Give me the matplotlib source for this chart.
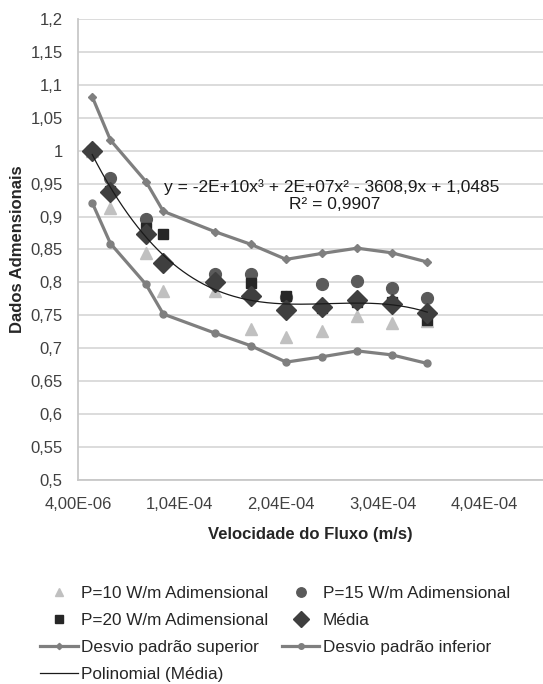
import matplotlib.pyplot as plt
import numpy as np
from matplotlib.ticker import FuncFormatter, MultipleLocator

plt.rcParams['font.family'] = ['Liberation Sans', 'DejaVu Sans']

# velocidade do fluxo (m/s)
vel = [1.8e-5, 3.6e-5, 7.1e-5, 8.8e-5, 1.39e-4, 1.74e-4, 2.09e-4, 2.44e-4, 2.79e-4, 3.13e-4, 3.48e-4]

p10 = [1.0, 0.913, 0.844, 0.787, 0.787, 0.729, 0.717, 0.726, 0.749, 0.739, 0.742]
p15 = [1.0, 0.959, 0.896, 0.83, 0.813, 0.813, 0.778, 0.797, 0.802, 0.792, 0.777]
p20 = [1.0, 0.939, 0.883, 0.873, 0.80, 0.799, 0.779, 0.761, 0.771, 0.770, 0.743]
media = [1.0, 0.937, 0.874, 0.830, 0.800, 0.779, 0.758, 0.762, 0.774, 0.767, 0.754]
sup = [1.082, 1.016, 0.953, 0.908, 0.877, 0.858, 0.835, 0.844, 0.852, 0.845, 0.831]
inf = [0.921, 0.859, 0.797, 0.752, 0.723, 0.704, 0.679, 0.687, 0.696, 0.690, 0.677]

fig = plt.figure(figsize=(5.43, 6.84), dpi=100)
ax = fig.add_axes([78 / 543, 1 - 480 / 684, 1 - 78 / 543, (480 - 19) / 684])

h10, = ax.plot(vel, p10, ls='none', marker='^', ms=8, color='#c0c0c0', label='P=10 W/m Adimensional')
h15, = ax.plot(vel, p15, ls='none', marker='o', ms=8.5, color='#5a5a5a', label='P=15 W/m Adimensional')
h20, = ax.plot(vel, p20, ls='none', marker='s', ms=7, color='#262626', label='P=20 W/m Adimensional')
hm, = ax.plot(vel, media, ls='none', marker='D', ms=10, color='#3f3f3f', label='Média')
hs, = ax.plot(vel, sup, color='#7f7f7f', lw=2.3, marker='D', ms=4, label='Desvio padrão superior')
hi, = ax.plot(vel, inf, color='#7f7f7f', lw=2.3, marker='o', ms=5, label='Desvio padrão inferior')

# linha de tendencia polinomial (grau 3) da media
coef = np.polyfit(vel, media, 3)
xs = np.linspace(vel[0], vel[-1], 200)
hp, = ax.plot(xs, np.polyval(coef, xs), color='#1a1a1a', lw=0.9, label='Polinomial (Média)')

ax.text(2.54e-4, 0.945, 'y = -2E+10x³ + 2E+07x² - 3608,9x + 1,0485',
        ha='center', va='center', fontsize=12.5, color='#1a1a1a')
ax.text(2.57e-4, 0.918, 'R² = 0,9907', ha='center', va='center', fontsize=12.5, color='#1a1a1a')

ax.set_xlim(4e-6, 4.62e-4)
ax.set_ylim(0.5, 1.2)
ax.set_xticks([4e-6, 1.04e-4, 2.04e-4, 3.04e-4, 4.04e-4])
ax.yaxis.set_major_locator(MultipleLocator(0.05))
ax.xaxis.set_major_formatter(FuncFormatter(lambda v, p: ('%.2E' % v).replace('.', ',')))
ax.yaxis.set_major_formatter(FuncFormatter(lambda v, p: ('%g' % round(v, 2)).replace('.', ',')))
ax.tick_params(length=0, labelsize=12, labelcolor='#404040')
ax.tick_params(axis='x', pad=12)
ax.tick_params(axis='y', pad=11)
ax.grid(axis='y', color='#d9d9d9', lw=1.3)
ax.set_axisbelow(True)
for s in ['top', 'right']:
    ax.spines[s].set_visible(False)
for s in ['left', 'bottom']:
    ax.spines[s].set_color('#c8c8c8')
    ax.spines[s].set_linewidth(1.3)

ax.set_xlabel('Velocidade do Fluxo (m/s)', fontsize=12, fontweight='bold', color='#262626', labelpad=11)
ax.set_ylabel('Dados Admensionais', fontsize=12, fontweight='bold', color='#262626', labelpad=4)

fig.legend(handles=[h10, h20, hs, hp, h15, hm, hi], ncol=2, frameon=False,
           loc='upper left', bbox_to_anchor=(40 / 543, 1 - 586 / 684),
           borderpad=0, borderaxespad=0, fontsize=12.3, handlelength=2.2,
           handletextpad=0.2, columnspacing=0.8, labelspacing=0.7,
           markerscale=0.8, labelcolor='#262626')

fig.savefig('out.png', dpi=100)
